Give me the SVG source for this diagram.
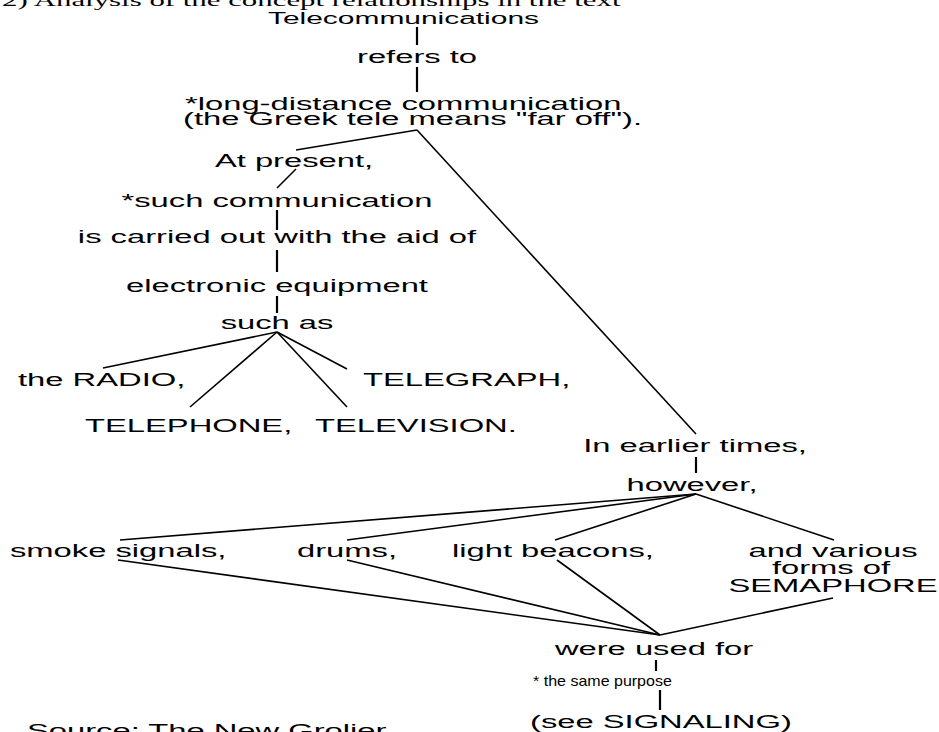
<svg xmlns="http://www.w3.org/2000/svg" width="939" height="732" viewBox="0 0 939 732">
<style>
  .t { font-family: "Liberation Sans", Arial, sans-serif; font-size: 17.5px; fill: #000; }
  .m { text-anchor: middle; }
  .ttl { font-family: "Liberation Serif", "Times New Roman", serif; font-size: 16.5px; fill: #000; }
  .sm { font-family: "Liberation Sans", Arial, sans-serif; font-size: 14px; fill: #000; }
  #connectors line { stroke: #000; stroke-width: 1.6; stroke-linecap: butt; }
  #connectors line.v { stroke-width: 2.2; }
</style>
<rect width="939" height="732" fill="#fff"/>

<g id="title"><text class="ttl" transform="translate(2,6) scale(1.87,1)">2) Analysis of the concept relationships in the text</text></g>

<g id="connectors">
  <line class="v" x1="417" y1="27" x2="417" y2="45"/>
  <line class="v" x1="417" y1="67" x2="417" y2="92"/>
  <line x1="417" y1="130" x2="296" y2="150"/>
  <line x1="417" y1="130" x2="696" y2="434"/>
  <line x1="296" y1="169" x2="277" y2="188"/>
  <line class="v" x1="277" y1="210" x2="277" y2="230"/>
  <line class="v" x1="277" y1="250" x2="277" y2="272"/>
  <line class="v" x1="277" y1="296" x2="277" y2="313"/>
  <line x1="277" y1="332" x2="103" y2="368"/>
  <line x1="277" y1="332" x2="190" y2="407"/>
  <line x1="277" y1="332" x2="347" y2="407"/>
  <line x1="277" y1="332" x2="347" y2="369"/>
  <line class="v" x1="696" y1="457" x2="696" y2="473"/>
  <line x1="696" y1="494" x2="120" y2="540"/>
  <line x1="696" y1="494" x2="347" y2="540"/>
  <line x1="696" y1="494" x2="555" y2="540"/>
  <line x1="696" y1="494" x2="834" y2="540"/>
  <line x1="118" y1="560" x2="660" y2="635"/>
  <line x1="347" y1="560" x2="660" y2="635"/>
  <line x1="557" y1="560" x2="660" y2="635"/>
  <line x1="833" y1="598" x2="660" y2="635"/>
  <line class="v" x1="656" y1="660" x2="656" y2="671"/>
  <line class="v" x1="660" y1="690" x2="660" y2="710"/>
</g>

<g id="n-telecom"><text class="t" style="font-size:16px" transform="translate(268,24) scale(1.87,1)">Telecommunications</text></g>
<g id="n-refers"><text class="t m" transform="translate(417,63) scale(1.87,1)">refers to</text></g>
<g id="n-longdistance">
  <text class="t" transform="translate(185,110) scale(1.87,1)">*long-distance communication</text>
  <text class="t" transform="translate(183,125) scale(1.87,1)">(the Greek tele means "far off").</text>
</g>
<g id="n-atpresent"><text class="t m" transform="translate(294,167) scale(1.87,1)">At present,</text></g>
<g id="n-such"><text class="t m" transform="translate(277,207) scale(1.87,1)">*such communication</text></g>
<g id="n-carried"><text class="t m" transform="translate(277,243) scale(1.87,1)">is carried out with the aid of</text></g>
<g id="n-electronic"><text class="t m" transform="translate(277,292) scale(1.87,1)">electronic equipment</text></g>
<g id="n-suchas"><text class="t m" transform="translate(277,329) scale(1.87,1)">such as</text></g>
<g id="n-radio"><text class="t" transform="translate(18,386) scale(1.87,1)">the RADIO,</text></g>
<g id="n-telegraph"><text class="t" transform="translate(363,386) scale(1.87,1)">TELEGRAPH,</text></g>
<g id="n-telephone"><text class="t" transform="translate(85,432) scale(1.87,1)">TELEPHONE,</text></g>
<g id="n-television"><text class="t" transform="translate(315,432) scale(1.87,1)">TELEVISION.</text></g>
<g id="n-earlier"><text class="t m" transform="translate(695,452) scale(1.87,1)">In earlier times,</text></g>
<g id="n-however"><text class="t m" transform="translate(692,491) scale(1.87,1)">however,</text></g>
<g id="n-smoke"><text class="t" transform="translate(10,557) scale(1.87,1)">smoke signals,</text></g>
<g id="n-drums"><text class="t" transform="translate(297,557) scale(1.87,1)">drums,</text></g>
<g id="n-beacons"><text class="t" transform="translate(452,557) scale(1.87,1)">light beacons,</text></g>
<g id="n-semaphore">
  <text class="t m" transform="translate(833,557) scale(1.87,1)">and various</text>
  <text class="t m" transform="translate(831,574) scale(1.87,1)">forms of</text>
  <text class="t m" transform="translate(833,592) scale(1.87,1)">SEMAPHORE</text>
</g>
<g id="n-used"><text class="t m" transform="translate(654,655) scale(1.87,1)">were used for</text></g>
<g id="n-purpose"><text class="sm" transform="translate(533,686) scale(1.145,1)">* the same purpose</text></g>
<g id="n-signaling"><text class="t" transform="translate(530,728) scale(1.87,1)">(see SIGNALING)</text></g>
<g id="source"><text class="t" transform="translate(27,737) scale(1.87,1)">Source: The New Grolier</text></g>
</svg>
